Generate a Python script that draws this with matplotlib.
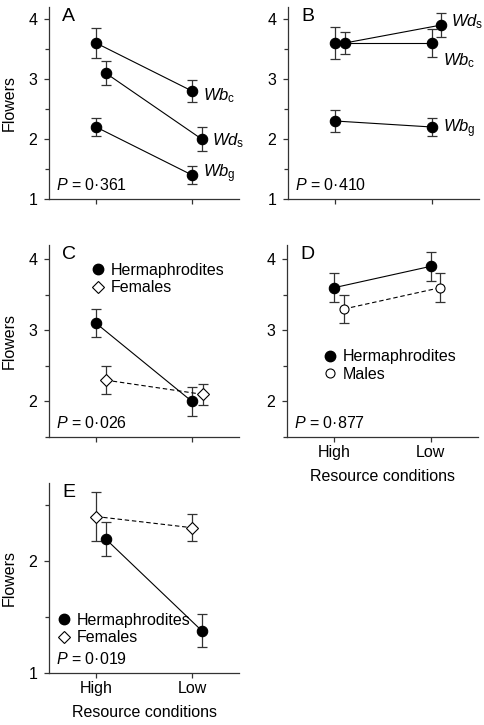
import matplotlib
matplotlib.use('Agg')
import matplotlib.pyplot as plt
from matplotlib.ticker import MultipleLocator
from matplotlib.lines import Line2D

plt.rcParams['font.family'] = ['Liberation Sans', 'DejaVu Sans']
plt.rcParams['mathtext.fontset'] = 'custom'
plt.rcParams['mathtext.rm'] = 'Liberation Sans'
plt.rcParams['mathtext.it'] = 'Liberation Sans:italic'
plt.rcParams['font.size'] = 11.5

conditions = ['High', 'Low']

# panel A
a_wbc = [3.6, 2.8]
a_wbc_err = [0.25, 0.18]
a_wds = [3.1, 2.0]
a_wds_err = [0.2, 0.2]
a_wbg = [2.2, 1.4]
a_wbg_err = [0.15, 0.15]
a_p = '0·361'

# panel B
b_wbc = [3.6, 3.6]
b_wbc_err = [0.26, 0.23]
b_wds = [3.6, 3.9]
b_wds_err = [0.19, 0.2]
b_wbg = [2.3, 2.2]
b_wbg_err = [0.18, 0.15]
b_p = '0·410'

# panel C
c_herm = [3.1, 2.0]
c_herm_err = [0.2, 0.2]
c_fem = [2.3, 2.1]
c_fem_err = [0.2, 0.15]
c_p = '0·026'

# panel D
d_herm = [3.6, 3.9]
d_herm_err = [0.2, 0.2]
d_male = [3.3, 3.6]
d_male_err = [0.2, 0.2]
d_p = '0·877'

# panel E
e_herm = [2.2, 1.38]
e_herm_err = [0.15, 0.15]
e_fem = [2.4, 2.3]
e_fem_err = [0.22, 0.12]
e_p = '0·019'

fig = plt.figure(figsize=(4.84, 7.25), dpi=100)
W, H = 484.0, 725.0
FS = 11.5


def make_ax(l, r, t, b):
    return fig.add_axes([l / W, (H - b) / H, (r - l) / W, (b - t) / H])


def style(ax, ylim, majors, letter, p, xlabels=False, ylabel=True):
    ax.set_xlim(-0.49, 1.49)
    ax.set_ylim(*ylim)
    ax.set_yticks(majors)
    ax.yaxis.set_minor_locator(MultipleLocator(0.5))
    ax.set_xticks([0, 1])
    if xlabels:
        ax.set_xticklabels(conditions)
        ax.set_xlabel('Resource conditions', labelpad=6, fontsize=FS)
    else:
        ax.set_xticklabels([])
    if ylabel:
        ax.set_ylabel('Flowers', labelpad=8, fontsize=FS)
    for s in ['top', 'right']:
        ax.spines[s].set_visible(False)
    for s in ['left', 'bottom']:
        ax.spines[s].set_linewidth(0.9)
        ax.spines[s].set_color('#333333')
    ax.tick_params(which='both', direction='out', width=0.9, length=3.5,
                   color='#333333')
    ax.tick_params(which='minor', length=3)
    ax.tick_params(axis='y', labelsize=FS, pad=5)
    ax.tick_params(axis='x', labelsize=FS, pad=2.5)
    ax.text(0.07, 0.995, letter, transform=ax.transAxes, fontsize=14,
            va='top', ha='left')
    ax.text(0.035, 0.03, '$P$ = ' + p, transform=ax.transAxes,
            fontsize=FS, va='bottom', ha='left')


def series(ax, y, err, dx=(0, 0), filled=True, marker='o', ls='-', ms=7.5):
    xs = [i + d for i, d in zip(range(len(y)), dx)]
    ax.errorbar(xs, y, yerr=err, fmt='none', ecolor='#333333',
                elinewidth=0.9, capsize=3.5, capthick=0.9, zorder=2)
    ax.plot(xs, y, color='black', lw=0.8, ls=ls, zorder=3)
    ax.plot(xs, y, ls='none', marker=marker, ms=ms,
            mfc='black' if filled else 'white', mec='black', mew=0.8,
            zorder=4)
    return xs


def lab(ax, x, y, main, sub, dx=0.12, dy=0.0):
    ax.text(x + dx, y + dy, r'$%s_{\mathrm{%s}}$' % (main, sub),
            fontsize=12, va='center', ha='left')


# A
axA = make_ax(49, 239, 7, 199)
series(axA, a_wbc, a_wbc_err)
xs = series(axA, a_wds, a_wds_err, dx=(0.1, 0.1))
series(axA, a_wbg, a_wbg_err)
lab(axA, 1, a_wbc[1], 'Wb', 'c', dx=0.12, dy=-0.07)
lab(axA, xs[1], a_wds[1], 'Wd', 's', dx=0.11, dy=-0.02)
lab(axA, 1, a_wbg[1], 'Wb', 'g', dx=0.12, dy=0.02)
style(axA, (1, 4.2), [1, 2, 3, 4], 'A', a_p)

# B
axB = make_ax(288, 479, 7, 199)
series(axB, b_wbc, b_wbc_err)
xs = series(axB, b_wds, b_wds_err, dx=(0.1, 0.1))
series(axB, b_wbg, b_wbg_err)
lab(axB, xs[1], b_wds[1], 'Wd', 's', dx=0.1, dy=0.06)
lab(axB, 1, b_wbc[1], 'Wb', 'c', dx=0.12, dy=-0.3)
lab(axB, 1, b_wbg[1], 'Wb', 'g', dx=0.12, dy=-0.03)
style(axB, (1, 4.2), [1, 2, 3, 4], 'B', b_p, ylabel=False)

# C
axC = make_ax(49, 239, 245, 437)
series(axC, c_herm, c_herm_err)
series(axC, c_fem, c_fem_err, dx=(0.1, 0.11), filled=False, marker='D',
       ls=(0, (4, 2.5)), ms=6.5)
style(axC, (1.5, 4.2), [2, 3, 4], 'C', c_p)
h1 = Line2D([], [], ls='none', marker='o', ms=7.5, mfc='black', mec='black')
h2 = Line2D([], [], ls='none', marker='D', ms=6.5, mfc='white', mec='black', mew=0.8)
leg_kw = dict(loc='upper left', frameon=False, fontsize=FS, handletextpad=0.05,
              labelspacing=0.15, borderaxespad=0, handlelength=1.5)
axC.legend([h1, h2], ['Hermaphrodites', 'Females'],
           bbox_to_anchor=(0.16, 0.94), **leg_kw)

# D
axD = make_ax(287, 478, 245, 437)
series(axD, d_herm, d_herm_err)
series(axD, d_male, d_male_err, dx=(0.1, 0.1), filled=False,
       ls=(0, (4, 2.5)), ms=6.5)
style(axD, (1.5, 4.2), [2, 3, 4], 'D', d_p, xlabels=True, ylabel=False)
h3 = Line2D([], [], ls='none', marker='o', ms=6.5, mfc='white', mec='black', mew=0.8)
axD.legend([h1, h3], ['Hermaphrodites', 'Males'],
           bbox_to_anchor=(0.13, 0.49), **leg_kw)

# E
axE = make_ax(49, 239, 483, 673)
series(axE, e_herm, e_herm_err, dx=(0.1, 0.1))
series(axE, e_fem, e_fem_err, filled=False, marker='D',
       ls=(0, (4, 2.5)), ms=6.5)
style(axE, (1, 2.7), [1, 2], 'E', e_p, xlabels=True)
axE.legend([h1, h2], ['Hermaphrodites', 'Females'],
           bbox_to_anchor=(-0.02, 0.35), **leg_kw)

fig.savefig('out.png', dpi=100)
